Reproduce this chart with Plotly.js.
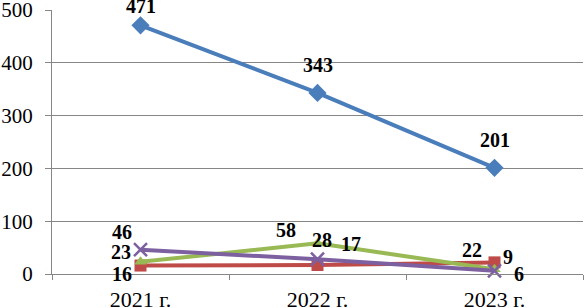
<!DOCTYPE html>
<html>
<head>
<meta charset="utf-8">
<script src="https://cdn.plot.ly/plotly-3.0.1.min.js"></script>
<style>html,body{margin:0;padding:0;background:#fff;}#chart{width:585px;height:308px;}</style>
</head>
<body>
<div id="chart"></div>
<script>
var categories = ['2021 г.', '2022 г.', '2023 г.'];
var seriesBlue = [471, 343, 201];
var seriesRed = [16, 17, 22];
var seriesGreen = [23, 58, 9];
var seriesPurple = [46, 28, 6];
var yTicks = [0, 100, 200, 300, 400, 500];

var SERIF = 'Liberation Serif';
var labelFont = {family: SERIF, size: 20, color: '#000', weight: 'bold'};

function mk(y, color, symbol, msize) {
  return {
    x: categories, y: y, type: 'scatter', mode: 'lines+markers',
    line: {color: color, width: 4},
    marker: {color: color, symbol: symbol, size: msize, line: {color: color, width: symbol === 'x-thin' ? 2.5 : 0}},
    cliponaxis: false, hoverinfo: 'skip'
  };
}

var data = [
  mk(seriesBlue, '#4A7EBB', 'diamond', 14),
  mk(seriesRed, '#BE4B48', 'square', 12),
  mk(seriesGreen, '#98B954', 'triangle-up', 11),
  mk(seriesPurple, '#7D60A0', 'x-thin', 13)
];

// label offsets (pixels) per series, per point
var series = [seriesBlue, seriesRed, seriesGreen, seriesPurple];
var shifts = [
  [[0, 19], [0, 28], [0, 28]],
  [[-19, -8], [33, 21], [-23, 12]],
  [[-20, 10], [-32, 13], [13, 12]],
  [[-19, 18], [4, 19], [24, -3]]
];
var annotations = [];
series.forEach(function (vals, s) {
  vals.forEach(function (v, i) {
    annotations.push({
      x: categories[i], y: v, xref: 'x', yref: 'y', text: String(v),
      showarrow: false, xshift: shifts[s][i][0], yshift: shifts[s][i][1],
      font: labelFont, xanchor: 'center', yanchor: 'middle'
    });
  });
});

var layout = {
  width: 585, height: 308,
  margin: {l: 52, r: 2, t: 10, b: 34},
  paper_bgcolor: '#fff', plot_bgcolor: '#fff',
  showlegend: false,
  font: {family: SERIF, size: 21, color: '#000'},
  annotations: annotations,
  xaxis: {
    type: 'category', range: [-0.5, 2.5],
    showgrid: false, showline: true, linecolor: '#868686', linewidth: 1,
    ticks: 'outside', tickson: 'boundaries', ticklen: 5, tickcolor: '#868686',
    ticklabelstandoff: 6, ticklabeloverflow: 'allow',
    tickfont: {family: SERIF, size: 22, color: '#000'},
    zeroline: false, fixedrange: true
  },
  yaxis: {
    range: [0, 500], tickvals: yTicks,
    showgrid: true, gridcolor: '#868686', gridwidth: 1,
    showline: true, linecolor: '#868686', linewidth: 1,
    ticks: 'outside', ticklen: 6, tickcolor: '#868686',
    ticklabelstandoff: 8, ticklabeloverflow: 'allow',
    tickfont: {family: SERIF, size: 21, color: '#000'},
    zeroline: false, fixedrange: true
  }
};

Plotly.newPlot('chart', data, layout, {staticPlot: true, displayModeBar: false});
</script>
</body>
</html>
